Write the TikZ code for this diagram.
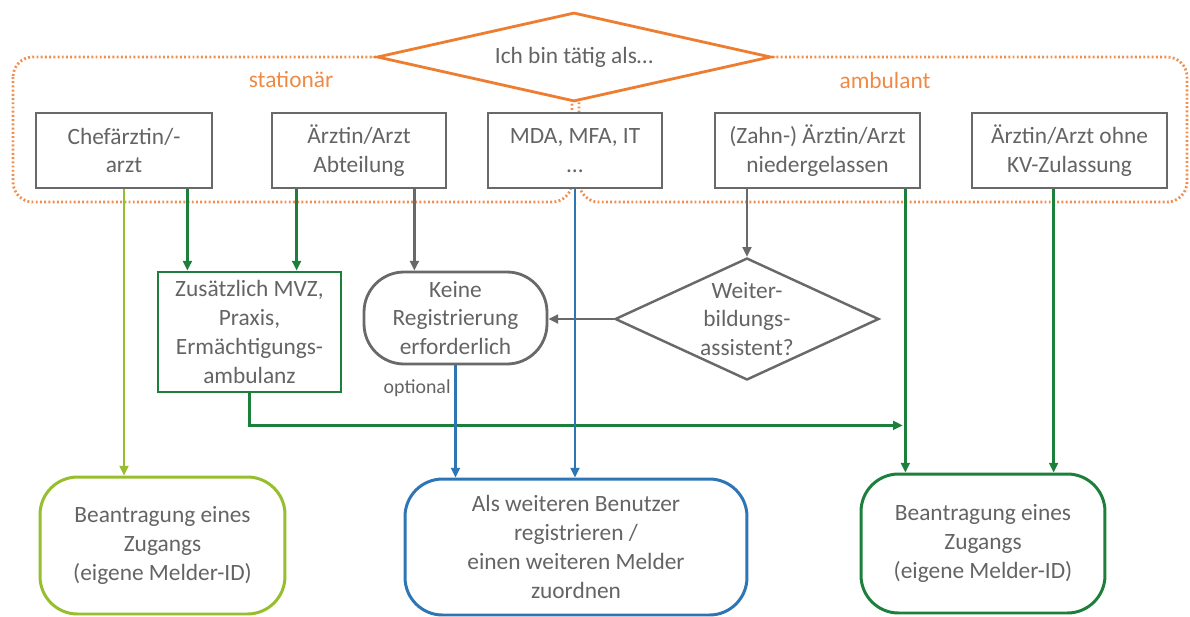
\documentclass[tikz,border=0pt]{standalone}
\usepackage{fontspec}
\setmainfont{Carlito}
\usepackage{xcolor}
\usetikzlibrary{arrows.meta}
\usetikzlibrary{calc}
\usetikzlibrary{shapes.geometric}

\definecolor{regorange}{RGB}{237,125,49}
\definecolor{reggray}{RGB}{105,105,105}
\definecolor{regtext}{RGB}{100,100,100}
\definecolor{reglgreen}{RGB}{150,190,45}
\definecolor{regdgreen}{RGB}{28,128,60}
\definecolor{regblue}{RGB}{46,117,182}

\tikzset{
  regfont/.style={font=\fontsize{13.3}{16.4}\selectfont, text=regtext, align=center},
  regbox/.style={regfont, draw=reggray, line width=1.6pt, fill=white, inner sep=0pt},
  regdiam/.style={regfont, diamond, draw, fill=white, inner sep=0pt},
  regend/.style={regfont, draw, line width=1.7pt, rounded corners=0.75cm, fill=white, inner sep=0pt},
  regarrow/.style={line width=1.6pt, -{Triangle[length=5.5pt,width=5pt]}},
  regzone/.style={draw=regorange!85, line width=1.6pt, dash pattern=on 1.1pt off 1.3pt, rounded corners=0.4cm},
}

\begin{document}
\begin{tikzpicture}[x=0.02cm, y=-0.02cm]
        \newcommand{\regtoprowy}{150.5}
        \newcommand{\regmidrowy}{318}
        \useasboundingbox (0,0) rectangle (1190,616);
        % stationaer / ambulant
        \draw[regzone] (13,57) rectangle (572,202);
        \draw[regzone] (579,57) rectangle (1187,202);
        \node[regfont, text=regorange!90] (stat) at (291,80) {station\"ar};
        \node[regfont, text=regorange!90] (amb) at (885,80) {ambulant};
        \node[regdiam, aspect=4.4, draw=regorange, line width=1.6pt, minimum width=7.88cm, minimum height=1.78cm] (start) at (574,57) {Ich bin t\"atig als\dots};
        % first row
        \node[regbox, minimum width=3.52cm, minimum height=1.5cm] (chef) at (124,\regtoprowy) {Chef\"arztin/-\\arzt};
        \node[regbox, minimum width=3.48cm, minimum height=1.5cm] (abt) at (359,\regtoprowy) {\"Arztin/Arzt\\Abteilung};
        \node[regbox, minimum width=3.48cm, minimum height=1.5cm] (mda) at (575,\regtoprowy) {MDA, MFA, IT\\\dots};
        \node[regbox, minimum width=4.1cm, minimum height=1.5cm] (zahn) at (817.5,\regtoprowy) {(Zahn-) \"Arztin/Arzt\\niedergelassen};
        \node[regbox, minimum width=3.9cm, minimum height=1.5cm] (kv) at (1069.5,\regtoprowy) {\"Arztin/Arzt ohne\\KV-Zulassung};
        % second row
        \node[regbox, draw=regdgreen, minimum width=3.66cm, minimum height=2.4cm] (mvz) at (249.5,332) {Zus\"atzlich MVZ,\\Praxis,\\Erm\"achtigungs-\\ambulanz};
        \node[regbox, rounded corners=0.8cm, minimum width=3.66cm, minimum height=1.84cm] (keine) at (455.5,\regmidrowy) {Keine\\Registrierung\\erforderlich};
        \node[regdiam, aspect=2.16, draw=reggray, line width=1.4pt, minimum width=5.28cm, minimum height=2.44cm] (weiter) at (747,319) {Weiter-\\bildungs-\\assistent?};
        % results
        \node[regend, draw=reglgreen, minimum width=4.9cm, minimum height=2.74cm] (zugangA) at (162.5,545.5) {Beantragung eines\\Zugangs\\(eigene Melder-ID)};
        \node[regend, draw=regblue, minimum width=6.84cm, minimum height=2.72cm] (benutzer) at (576,547) {Als weiteren Benutzer\\registrieren /\\einen weiteren Melder\\zuordnen};
        \node[regend, draw=regdgreen, minimum width=4.88cm, minimum height=2.78cm] (zugangB) at (983,543.5) {Beantragung eines\\Zugangs\\(eigene Melder-ID)};
        % connectors
        \coordinate (chefout) at ($(chef.south east)+(-26,0)$);
        \coordinate (abtouta) at ($(abt.south west)+(26,0)$);
        \coordinate (abtoutb) at ($(abt.south east)+(-33,0)$);
        \coordinate (zahnout) at ($(zahn.south east)+(-16,0)$);
        \coordinate (kvout) at ($(kv.south west)+(83,0)$);
        \coordinate (mvzjoin) at ($(mvz.south)+(0,32)$);
        \draw[regarrow, reglgreen] (chef.south) -- (chef.south |- zugangA.north);
        \draw[regarrow, regdgreen] (chefout) -- (chefout |- mvz.north);
        \draw[regarrow, regdgreen] (abtouta) -- (abtouta |- mvz.north);
        \draw[regarrow, reggray] (abtoutb) -- (abtoutb |- keine.north);
        \draw[regarrow, reggray] (weiter.north |- zahn.south) -- (weiter.north);
        \draw[regarrow, reggray] (weiter.west) -- (keine.east |- weiter.west);
        \draw[regarrow, regdgreen] (zahnout) -- (zahnout |- zugangB.north);
        \draw[regarrow, regdgreen] (kvout) -- (kvout |- zugangB.north);
        \draw[regarrow, regdgreen, shorten >=1.5pt] (mvz.south) -- (mvzjoin) -- (mvzjoin -| zahnout);
        \draw[regarrow, regblue] (keine.south) -- node[pos=0.2, anchor=east, inner sep=2pt, font=\fontsize{11.3}{13}\selectfont, text=regtext] (opt) {optional} (keine.south |- benutzer.north);
        \draw[regarrow, regblue] (mda.south) -- (mda.south |- benutzer.north);
    \end{tikzpicture}
\end{document}
